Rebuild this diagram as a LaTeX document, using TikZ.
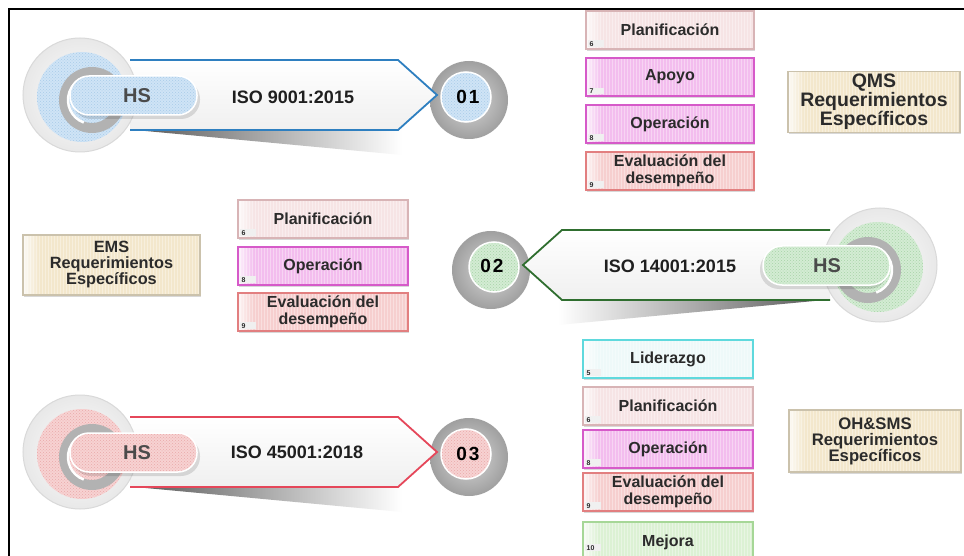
\documentclass[tikz,border=0pt]{standalone}
\usepackage{fontspec}
\setmainfont{Liberation Sans}
\usetikzlibrary{shadows,patterns,fadings}

\definecolor{ink}{HTML}{2B2B2B}
\definecolor{planfill}{HTML}{F6E4E5}\definecolor{planedge}{HTML}{D8B4B6}
\definecolor{apoyofill}{HTML}{F3BDEE}\definecolor{apoyoedge}{HTML}{D65AC9}
\definecolor{evalfill}{HTML}{F6CFCF}\definecolor{evaledge}{HTML}{E27F80}
\definecolor{liderfill}{HTML}{EEF9F9}\definecolor{lideredge}{HTML}{5FD9DD}
\definecolor{mejorafill}{HTML}{DCF1D4}\definecolor{mejoraedge}{HTML}{A6D797}
\definecolor{reqfill}{HTML}{F3E7CC}\definecolor{reqedge}{HTML}{CBC2AC}
\definecolor{blueedge}{HTML}{2E7FC0}\definecolor{bluepale}{HTML}{CFE4F6}\definecolor{bluedot}{HTML}{A9CBE8}
\definecolor{greenedge}{HTML}{2F6E2F}\definecolor{greenpale}{HTML}{D3ECD3}\definecolor{greendot}{HTML}{A8D3A8}
\definecolor{rededge}{HTML}{E5475A}\definecolor{redpale}{HTML}{F7D2D2}\definecolor{reddot}{HTML}{E9A9A9}

\newcommand\setfs[2]{\fontsize{#1}{#2}\selectfont}

\tikzset{
  wedge right/.style={left color=black!65, right color=white},
  wedge left/.style={left color=white, right color=black!65},
  % ribbon with hub, pill and numbered disc; local origin = hub centre
  pics/banner/.style n args={4}{code={
    \shade[#4] (55,35) -- (322,35) -- (322,60) -- cycle;
    \shade[inner color=gray!30, outer color=gray!75] (389,5) circle (39);
    \filldraw[draw=white, line width=1.5pt, fill=#2] (386,2) circle (25);
    \fill[pattern=crosshatch dots, pattern color=#3] (386,2) circle (24);
    \shade[top color=white, bottom color=gray!12] (50,-35) -- (318,-35) -- (357,0) -- (318,35) -- (50,35) -- cycle;
    \draw[#1, line width=1.8pt] (50,-35) -- (318,-35) -- (357,0) -- (318,35) -- (50,35);
    \shade[inner color=white, outer color=gray!18] (0,0) circle (57);
    \draw[gray!30, line width=1pt] (0,0) circle (57);
    \fill[#2] (2,2) circle (45);
    \fill[pattern=crosshatch dots, pattern color=#3] (2,2) circle (45);
    \fill[gray!60, even odd rule] (12,5) circle (33) (12,5) circle (23);
    \draw[white, line width=2.5pt] (12,5) ++(110:24) arc (110:250:24);
    \fill[black, opacity=.12, rounded corners=19pt] (-8,-15) rectangle (120,24);
    \filldraw[draw=white, line width=1.5pt, fill=#2, rounded corners=19pt] (-10,-19) rectangle (117,20);
    \fill[pattern=crosshatch dots, pattern color=#3, rounded corners=19pt] (-9,-18) rectangle (116,19);
  }},
  card/.style={rectangle, line width=1.1pt, minimum width=168pt, minimum height=38pt,
    inner sep=1pt, align=center, text=ink, font=\setfs{16}{16.5}\bfseries,
    drop shadow={shadow xshift=1pt, shadow yshift=-2pt, opacity=.3},
    path picture={
      \fill[pattern=vertical lines, pattern color=white, opacity=.35]
        (path picture bounding box.south west) rectangle (path picture bounding box.north east);
      \fill[white, opacity=.8, path fading=east]
        (path picture bounding box.south west) rectangle ([xshift=16pt]path picture bounding box.north west);}},
  plancard/.style={card, draw=planedge, fill=planfill},
  apoyocard/.style={card, draw=apoyoedge, fill=apoyofill},
  evalcard/.style={card, draw=evaledge, fill=evalfill},
  lidercard/.style={card, draw=lideredge, fill=liderfill},
  mejoracard/.style={card, draw=mejoraedge, fill=mejorafill},
  reqcard/.style={card, draw=reqedge, fill=reqfill, minimum height=61pt},
  numtag/.style={anchor=south west, fill=gray!12, text=ink, font=\setfs{7}{7}\bfseries,
    inner xsep=2pt, inner ysep=1pt, text width=12pt, align=left},
  hstext/.style={text=ink!85, font=\setfs{20}{20}\bfseries},
  isotext/.style={text=black!88, font=\setfs{18}{18}\bfseries},
  numtext/.style={text=black, font=\setfs{19}{19}\bfseries},
}

% card with a small number tag in its lower left corner
\newcommand\card[5]{%
  \node[#2] (#1) at (#3) {#5};
  \node[numtag] (#1-n) at ([xshift=2pt,yshift=2pt]#1.south west) {#4};}

\begin{document}
\begin{tikzpicture}[x=1pt,y=-1pt]
\useasboundingbox (0,0) rectangle (964,556);
\fill[white] (0,0) rectangle (964,556);
\draw[black, line width=2.5pt] (9,560) -- (9,9) -- (966,9);

% ---------- ISO 9001 ----------
\pic at (80,95) {banner={blueedge}{bluepale}{bluedot}{wedge right}};
\node[hstext] (hs1) at (137,96) {HS};
\node[isotext] (iso1) at (293,97) {ISO 9001:2015};
\node[numtext] (n1) at (468,97) {0\hspace{2pt}1};

% ---------- ISO 14001 ----------
\pic[xscale=-1] at (880,265) {banner={greenedge}{greenpale}{greendot}{wedge left}};
\node[hstext] (hs2) at (827,266) {HS};
\node[isotext] (iso2) at (670,266) {ISO 14001:2015};
\node[numtext] (n2) at (492,266) {0\hspace{2pt}2};

% ---------- ISO 45001 ----------
\pic at (80,452) {banner={rededge}{redpale}{reddot}{wedge right}};
\node[hstext] (hs3) at (137,453) {HS};
\node[isotext] (iso3) at (297,452) {ISO 45001:2018};
\node[numtext] (n3) at (468,454) {0\hspace{2pt}3};

% ---------- QMS clauses ----------
\card{qplan}{plancard}{670,30}{6}{Planificación}
\card{qapoyo}{apoyocard}{670,77}{7}{Apoyo}
\card{qoper}{apoyocard}{670,124}{8}{Operación}
\card{qeval}{evalcard}{670,171}{9}{Evaluación del\\desempeño}
\node[reqcard, minimum width=172pt, font=\setfs{19.5}{16.8}\bfseries] (qms) at (874,102)
  {QMS\\Requerimientos\\Específicos};

% ---------- EMS clauses ----------
\card{eplan}{plancard, minimum width=170pt}{323,219}{6}{Planificación}
\card{eoper}{apoyocard, minimum width=170pt}{323,266}{8}{Operación}
\card{eeval}{evalcard, minimum width=170pt}{323,312}{9}{Evaluación del\\desempeño}
\node[reqcard, minimum width=177pt, minimum height=60pt, font=\setfs{16.3}{16}\bfseries] (ems) at (111.5,265)
  {EMS\\Requerimientos\\Específicos};

% ---------- OH&SMS clauses ----------
\card{olider}{lidercard, minimum width=170pt}{668,359}{5}{Liderazgo}
\card{oplan}{plancard, minimum width=170pt}{668,406}{6}{Planificación}
\card{ooper}{apoyocard, minimum width=170pt}{668,449}{8}{Operación}
\card{oeval}{evalcard, minimum width=170pt}{668,492}{9}{Evaluación del\\desempeño}
% last card runs past the lower edge, so its tag sits higher
\node[mejoracard, minimum width=170pt, minimum height=46pt, text depth=8pt] (omejora) at (668,545) {Mejora};
\node[numtag] (omejora-n) at ([xshift=2pt,yshift=17pt]omejora.south west) {10};
\node[reqcard, minimum width=172pt, minimum height=62pt, font=\setfs{16.7}{16}\bfseries] (ohs) at (875,441)
  {OH\&SMS\\Requerimientos\\Específicos};
\end{tikzpicture}
\end{document}
